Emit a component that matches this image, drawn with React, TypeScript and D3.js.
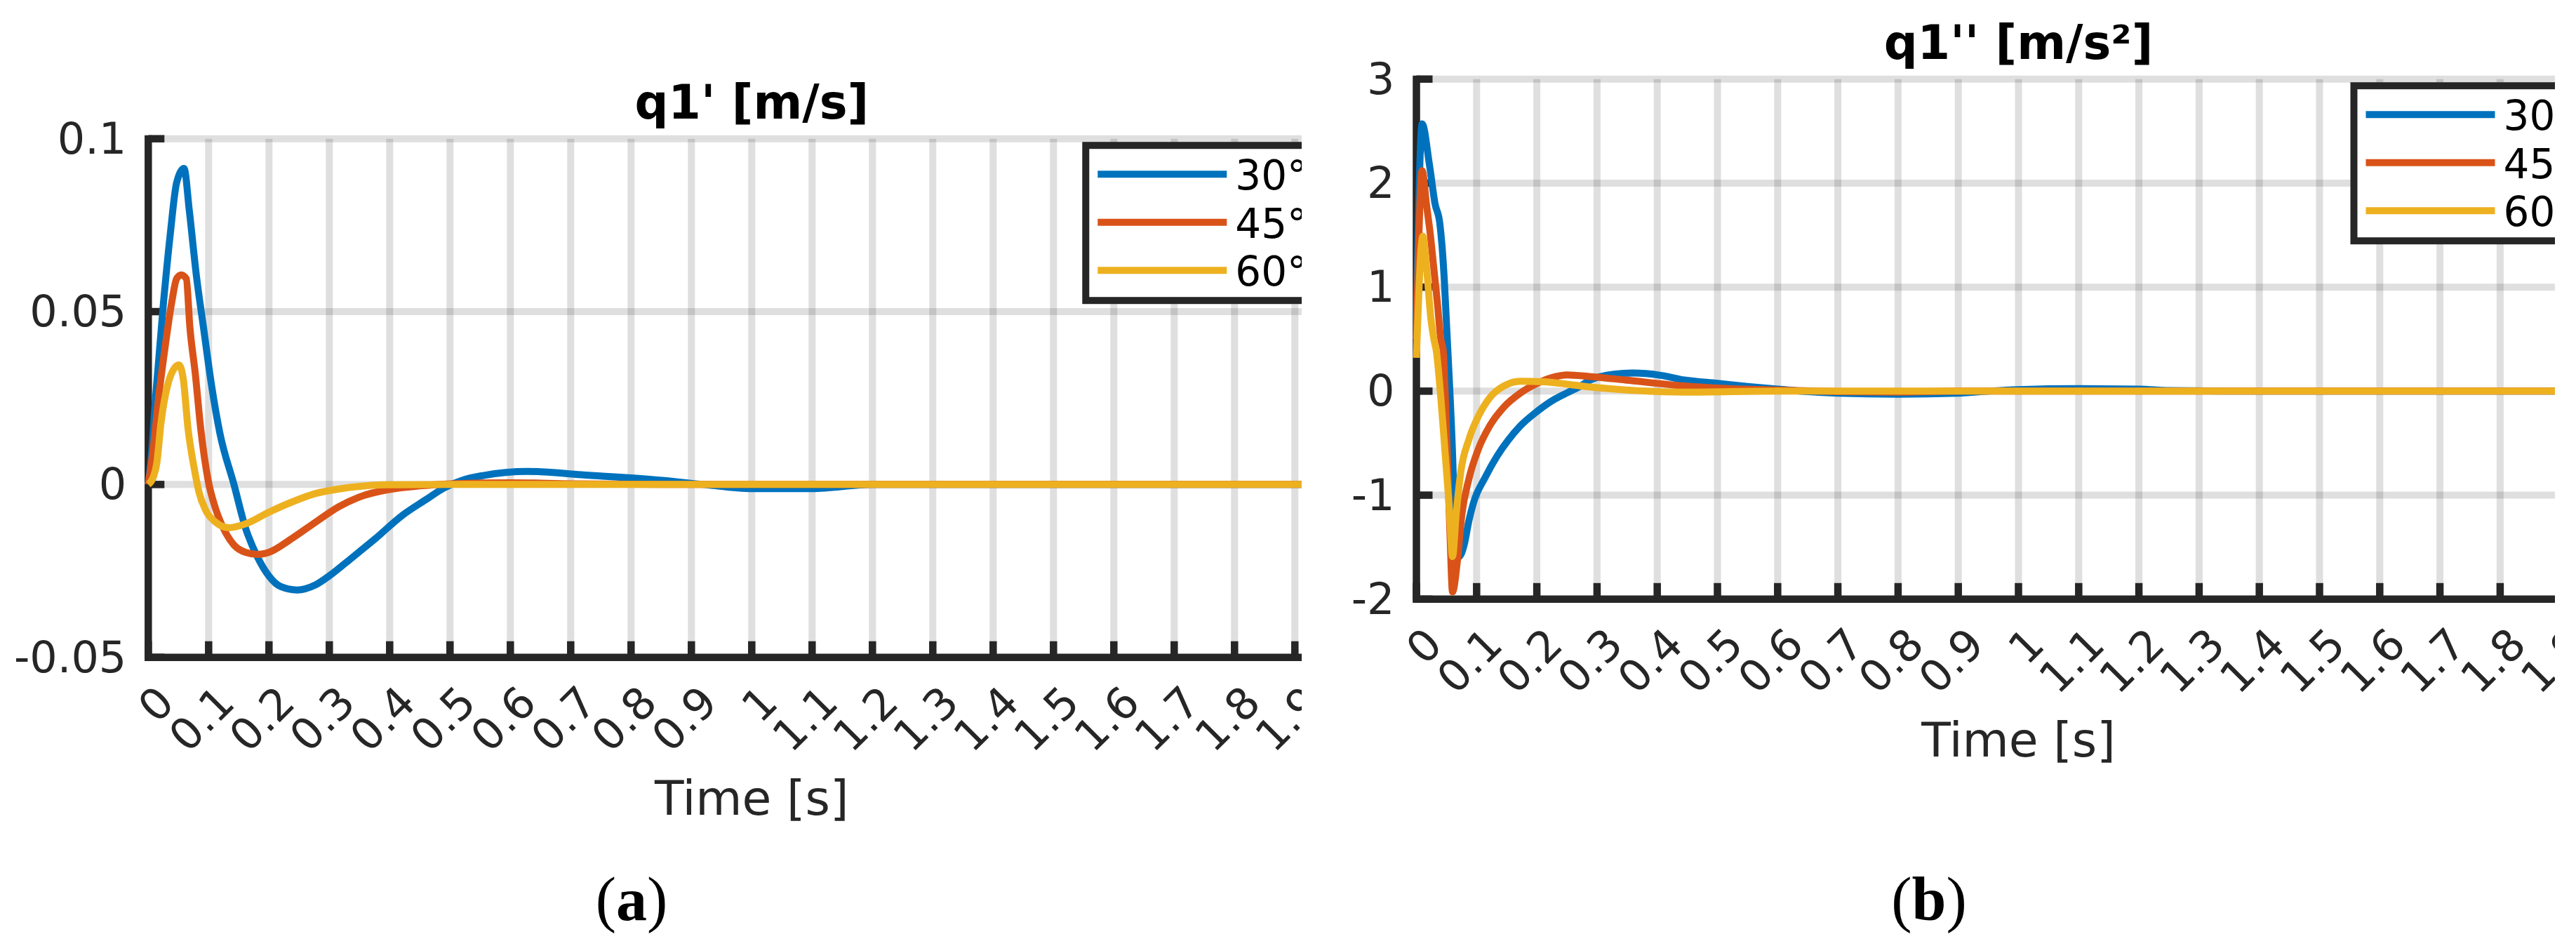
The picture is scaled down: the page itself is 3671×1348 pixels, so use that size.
import React from 'react';
import * as d3 from 'd3';

// ---------- data ----------
const seriesNames = ['30°', '45°', '60°'];
const seriesColors = ['#0072BD', '#D95319', '#EDB120'];

const xTickValues = [0, 0.1, 0.2, 0.3, 0.4, 0.5, 0.6, 0.7, 0.8, 0.9, 1, 1.1, 1.2, 1.3, 1.4, 1.5, 1.6, 1.7, 1.8, 1.9, 2];
const xTickLabels = ['0', '0.1', '0.2', '0.3', '0.4', '0.5', '0.6', '0.7', '0.8', '0.9', '1', '1.1', '1.2', '1.3', '1.4', '1.5', '1.6', '1.7', '1.8', '1.9', '2'];

const aYTicks = [-0.05, 0, 0.05, 0.1];
const aYTickLabels = ['-0.05', '0', '0.05', '0.1'];
const bYTicks = [-2, -1, 0, 1, 2, 3];
const bYTickLabels = ['-2', '-1', '0', '1', '2', '3'];

// panel (a): q1' [m/s]
const a30T = [0, 0.005, 0.012, 0.025, 0.0365, 0.047, 0.0593, 0.068, 0.08, 0.0915, 0.105, 0.1186, 0.142, 0.161, 0.181, 0.2, 0.219, 0.2465, 0.2775, 0.301, 0.336, 0.374, 0.422, 0.459, 0.49, 0.52, 0.555, 0.629, 0.718, 0.852, 0.92, 1.0, 1.1, 1.2, 2.0];
const a30V = [0, 0.008, 0.025, 0.0522, 0.0725, 0.0873, 0.0914, 0.0792, 0.06, 0.0454, 0.0285, 0.0149, 0, -0.0125, -0.021, -0.0265, -0.0295, -0.0305, -0.029, -0.0263, -0.0214, -0.016, -0.0088, -0.0045, -0.001, 0.0012, 0.0026, 0.0038, 0.0028, 0.0012, 0, -0.0012, -0.0012, 0, 0];
const a45T = [0, 0.008, 0.017, 0.027, 0.039, 0.047, 0.0547, 0.063, 0.069, 0.078, 0.087, 0.099, 0.111, 0.123, 0.142, 0.161, 0.181, 0.2, 0.239, 0.278, 0.316, 0.355, 0.394, 0.45, 0.5, 0.6, 0.7, 0.85, 2.0];
const a45V = [0, 0.01, 0.025, 0.0386, 0.0528, 0.0595, 0.0606, 0.0595, 0.0454, 0.0319, 0.016, 0.0014, -0.0067, -0.0121, -0.0175, -0.0196, -0.0202, -0.0196, -0.0155, -0.0108, -0.0064, -0.0033, -0.0016, -0.0004, 0.0002, 0.0005, 0.0002, 0, 0];
const a60T = [0, 0.008, 0.014, 0.021, 0.032, 0.038, 0.0508, 0.058, 0.066, 0.076, 0.0837, 0.095, 0.111, 0.134, 0.161, 0.2, 0.239, 0.2775, 0.316, 0.394, 0.5, 2.0];
const a60V = [0, 0.002, 0.006, 0.0177, 0.0287, 0.0319, 0.0346, 0.0305, 0.016, 0.0048, -0.002, -0.0074, -0.0108, -0.0125, -0.0114, -0.008, -0.005, -0.0026, -0.0013, -0.0001, 0, 0];

// panel (b): q1'' [m/s²]
const b30T = [0, 0.0095, 0.0213, 0.031, 0.0387, 0.0425, 0.0464, 0.0503, 0.0522, 0.06, 0.064, 0.068, 0.074, 0.08, 0.087, 0.095, 0.1145, 0.134, 0.153, 0.173, 0.2, 0.231, 0.25, 0.27, 0.289, 0.328, 0.359, 0.406, 0.445, 0.5, 0.55, 0.6, 0.65, 0.7, 0.8, 0.9, 0.95, 1.0, 1.1, 1.2, 1.25, 1.35, 2.0];
const b30V = [0.7, 2.57, 2.19, 1.8, 1.62, 1.4, 1.06, 0.61, 0.39, -0.6, -1.3, -1.6, -1.57, -1.46, -1.25, -1.07, -0.826, -0.624, -0.467, -0.332, -0.197, -0.073, -0.017, 0.04, 0.107, 0.163, 0.174, 0.152, 0.107, 0.075, 0.045, 0.02, -0.005, -0.02, -0.03, -0.02, 0, 0.015, 0.025, 0.02, 0.005, 0, 0];
const b45T = [0, 0.0095, 0.017, 0.023, 0.029, 0.035, 0.0405, 0.0445, 0.048, 0.052, 0.056, 0.06, 0.068, 0.0755, 0.087, 0.103, 0.122, 0.1455, 0.173, 0.2, 0.231, 0.25, 0.289, 0.347, 0.445, 0.5, 0.6, 0.7, 0.8, 0.9, 2.0];
const b45V = [0.5, 2.12, 1.78, 1.51, 1.175, 0.84, 0.5, 0.39, -0.06, -0.736, -1.41, -1.93, -1.635, -1.185, -0.848, -0.556, -0.332, -0.152, -0.017, 0.073, 0.14, 0.156, 0.14, 0.107, 0.05, 0.03, 0.01, -0.005, -0.01, 0, 0];
const b60T = [0, 0.0107, 0.017, 0.024, 0.029, 0.033, 0.0405, 0.048, 0.054, 0.06, 0.066, 0.0736, 0.087, 0.103, 0.122, 0.1455, 0.173, 0.2115, 0.289, 0.367, 0.445, 0.6, 2.0];
const b60V = [0.32, 1.49, 1.175, 0.7, 0.5, 0.39, -0.06, -0.62, -1.07, -1.59, -1.185, -0.78, -0.467, -0.24, -0.062, 0.05, 0.096, 0.09, 0.04, 0.005, -0.01, 0, 0];

// ---------- layout ----------
const W = 3671;
const H = 1348;
const FONT = '"DejaVu Sans", Verdana, sans-serif';
const AX = '#262626';

type Layout = { x0: number; x1: number; yTop: number; yBot: number; clipL: number; clipR: number };

const layoutA: Layout = { x0: 211.3, x1: 1931.3, yTop: 197.7, yBot: 936.7, clipL: 0, clipR: 1855 };
const layoutB: Layout = { x0: 2018.5, x1: 3734.5, yTop: 112.7, yBot: 853.8, clipL: 1860, clipR: 3641 };

function zip(t: number[], v: number[]): [number, number][] {
  return t.map((tt, i) => [tt, v[i]] as [number, number]);
}

type PanelProps = {
  id: string;
  L: Layout;
  yDomain: [number, number];
  yTicks: number[];
  yLabels: string[];
  title: string;
  series: [number, number][][];
};

function Panel({ id, L, yDomain, yTicks, yLabels, title, series }: PanelProps) {
  const x = d3.scaleLinear().domain([0, 2]).range([L.x0, L.x1]);
  const y = d3.scaleLinear().domain(yDomain).range([L.yBot, L.yTop]);
  const line = d3
    .line<[number, number]>()
    .x((d) => x(d[0]))
    .y((d) => y(d[1]))
    .curve(d3.curveMonotoneX);
  const tickLen = 23;
  const lw = 10.5;
  const legL = L.x0 + 1336;
  const legT = L.yTop + 9.5;
  return (
    <g>
      <defs>
        <clipPath id={`clip-${id}`}>
          <rect x={L.clipL} y={0} width={L.clipR - L.clipL} height={H} />
        </clipPath>
      </defs>
      <g clipPath={`url(#clip-${id})`}>
        {/* grid */}
        {xTickValues.map((t) => (
          <line key={`gx${t}`} x1={x(t)} x2={x(t)} y1={L.yTop} y2={L.yBot} stroke={AX} strokeOpacity={0.15} strokeWidth={10} />
        ))}
        {yTicks.map((t) => (
          <line key={`gy${t}`} x1={L.x0} x2={L.x1} y1={y(t)} y2={y(t)} stroke={AX} strokeOpacity={0.15} strokeWidth={10} />
        ))}
        {/* axes */}
        <line x1={L.x0} x2={L.x0} y1={L.yTop - 5} y2={L.yBot + 5} stroke={AX} strokeWidth={lw} />
        <line x1={L.x0 - 5} x2={L.x1} y1={L.yBot} y2={L.yBot} stroke={AX} strokeWidth={lw} />
        {yTicks.map((t) => (
          <line key={`ty${t}`} x1={L.x0} x2={L.x0 + tickLen} y1={y(t)} y2={y(t)} stroke={AX} strokeWidth={lw} />
        ))}
        {xTickValues.map((t) => (
          <line key={`tx${t}`} x1={x(t)} x2={x(t)} y1={L.yBot} y2={L.yBot - tickLen} stroke={AX} strokeWidth={lw} />
        ))}
        {/* tick labels */}
        {yTicks.map((t, i) => (
          <text key={`ly${t}`} x={L.x0 - 31} y={y(t) + 21} textAnchor="end" fontFamily={FONT} fontSize={62} fill={AX}>
            {yLabels[i]}
          </text>
        ))}
        {xTickValues.map((t, i) => (
          <text
            key={`lx${t}`}
            transform={`translate(${x(t) + 40},${L.yBot + 68}) rotate(-45)`}
            textAnchor="end"
            fontFamily={FONT}
            fontSize={62}
            fill={AX}
          >
            {xTickLabels[i]}
          </text>
        ))}
        {/* data */}
        {series.map((s, i) => (
          <path key={`s${i}`} d={line(s) || ''} fill="none" stroke={seriesColors[i]} strokeWidth={10} strokeLinejoin="round" strokeLinecap="butt" />
        ))}
        {/* title & label */}
        <text x={(L.x0 + L.x1) / 2} y={L.yTop - 28.5} textAnchor="middle" fontFamily={FONT} fontWeight="bold" fontSize={67} fill="#000">
          {title}
        </text>
        <text x={(L.x0 + L.x1) / 2} y={L.yBot + 224} textAnchor="middle" fontFamily={FONT} fontSize={68} fill={AX}>
          Time [s]
        </text>
        {/* legend */}
        <rect x={legL} y={legT} width={345} height={221} fill="#fff" stroke={AX} strokeWidth={10} />
        {seriesNames.map((n, i) => {
          const ry = legT + 41 + i * 68.5;
          return (
            <g key={`lg${i}`}>
              <line x1={legL + 17} x2={legL + 201} y1={ry} y2={ry} stroke={seriesColors[i]} strokeWidth={10} />
              <text x={legL + 213} y={ry + 22} fontFamily={FONT} fontSize={58} fill="#000">
                {n}
              </text>
            </g>
          );
        })}
      </g>
    </g>
  );
}

export default function App() {
  const seriesA = [zip(a30T, a30V), zip(a45T, a45V), zip(a60T, a60V)];
  const seriesB = [zip(b30T, b30V), zip(b45T, b45V), zip(b60T, b60V)];
  return (
    <svg
      width={W}
      height={H}
      viewBox={`0 0 ${W} ${H}`}
      style={{ position: 'absolute', left: 0, top: 0, background: '#fff' }}
    >
      <rect x={0} y={0} width={W} height={H} fill="#fff" />
      <Panel id="a" L={layoutA} yDomain={[-0.05, 0.1]} yTicks={aYTicks} yLabels={aYTickLabels} title="q1' [m/s]" series={seriesA} />
      <Panel id="b" L={layoutB} yDomain={[-2, 3]} yTicks={bYTicks} yLabels={bYTickLabels} title="q1'' [m/s²]" series={seriesB} />
      <text x={900} y={1311} textAnchor="middle" fontFamily='"Liberation Serif", "Times New Roman", serif' fontSize={88} fill="#000">
        (<tspan fontWeight="bold">a</tspan>)
      </text>
      <text x={2749} y={1311} textAnchor="middle" fontFamily='"Liberation Serif", "Times New Roman", serif' fontSize={88} fill="#000">
        (<tspan fontWeight="bold">b</tspan>)
      </text>
    </svg>
  );
}
